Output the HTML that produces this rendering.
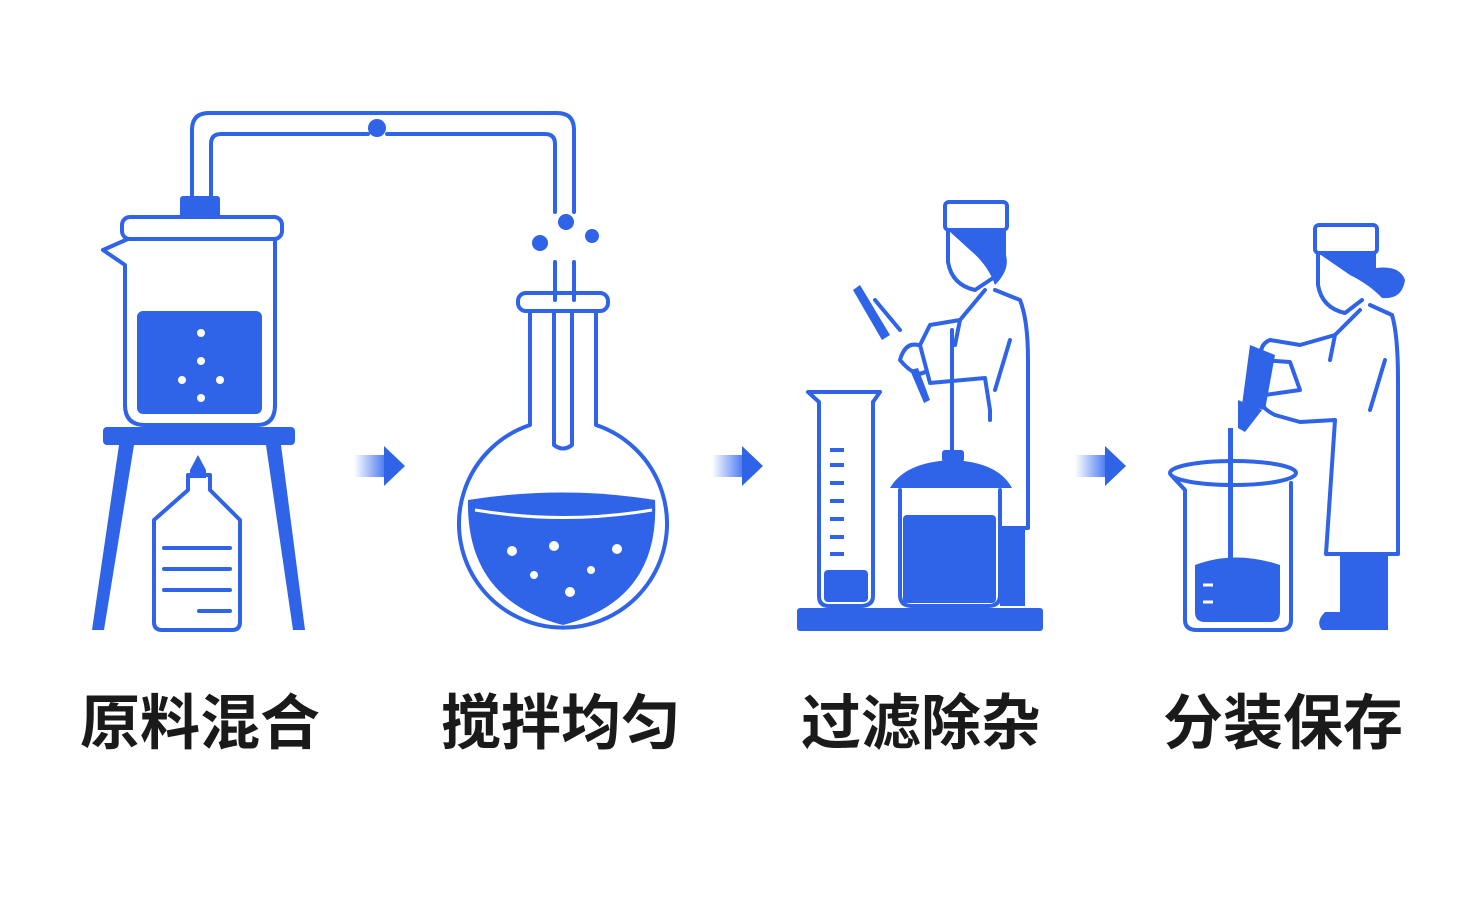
<!DOCTYPE html>
<html><head><meta charset="utf-8"><style>
html,body{margin:0;padding:0;background:#fff;}
body{width:1459px;height:897px;overflow:hidden;position:relative;}
.t{position:absolute;top:675px;font-family:"Liberation Sans","Noto Sans CJK SC",sans-serif;font-weight:bold;font-size:60px;color:#1a1a1a;letter-spacing:0px;}
</style></head><body>
<svg width="1459" height="897" style="position:absolute;left:0;top:0">
<defs>
<linearGradient id="ag" x1="0" x2="1"><stop offset="0" stop-color="#3a6ef0" stop-opacity="0"/><stop offset="1" stop-color="#3a6ef0"/></linearGradient>
</defs>
<g fill="none" stroke="#2f63e8" stroke-width="4" stroke-linejoin="round" stroke-linecap="round">
<path d="M192 196 V130 Q192 113 209 113 H557 Q574 113 574 130 V212"/>
<path d="M211 196 V144 Q211 134 221 134 H368 M387 134 H545 Q555 134 555 144 V212"/>
<path d="M555 262 V300 M574 262 V300"/>
<rect x="122" y="217" width="160" height="22" rx="8"/>
<path d="M128 239 L103 250 L125 265 V405 Q125 425 145 425 H257 Q275 425 275 405 V239"/>
<path d="M188 475 H210 V490 L240 520 V622 Q240 630 232 630 H162 Q154 630 154 622 V520 L188 490 Z"/>
<path d="M164 548 H230 M164 569 H230 M164 590 H230 M199 611 H230"/>
<rect x="518" y="293" width="90" height="18" rx="8"/>
<path d="M530 311 V425 A104 104 0 1 0 596 425 V311"/>
<path d="M554 311 V445 Q563 452 572 445 V311"/>
<path d="M808 392 H880 L873 402 V596 Q873 606 860 606 H829 Q819 606 819 596 V402 Z"/>
<path d="M900 490 V595 Q900 606 912 606 H988 Q1000 606 1000 595 V490"/>
<path d="M952 455 V330"/>
<rect x="945" y="202" width="62" height="28" rx="4"/>
<path d="M948 230 V262 Q952 285 975 290 L993 278"/>
<path d="M985 290 L960 320 L930 325 L920 345 L930 383 L985 378 L990 410 V420 M995 290 L1020 300 Q1028 320 1028 360 V528 H1000 M960 320 L955 345 M1010 340 L995 390"/>
<path d="M900 330 L875 300 M918 345 Q905 342 900 360 Q915 378 925 372"/>
<ellipse cx="1233" cy="473" rx="63" ry="12"/>
<path d="M1172 476 L1185 490 V620 Q1185 630 1197 630 H1280 Q1291 630 1291 620 V483"/>
<rect x="1315" y="225" width="62" height="28" rx="4"/>
<path d="M1318 253 V285 Q1322 308 1345 313 L1362 300"/>
<path d="M1360 310 L1335 335 L1300 345 L1270 340 Q1258 345 1262 360 L1290 362 L1300 390 L1265 395 Q1255 405 1275 415 L1300 422 L1335 420 M1370 305 L1392 315 Q1398 335 1398 380 V554 H1326 L1335 420 M1335 335 L1330 360 M1385 360 L1370 410"/>
</g>
<g fill="#2f63e8">
<circle cx="377" cy="128" r="9"/>
<rect x="180" y="196" width="40" height="22" rx="3"/>
<rect x="137" y="311" width="125" height="103" rx="6"/>
<rect x="103" y="427" width="192" height="18" rx="4"/>
<path d="M119 445 H134 L104 630 H92 Z M266 445 H281 L305 630 H293 Z"/>
<path d="M198 455 L206 470 L206 478 H190 L190 470 Z"/>
<circle cx="566" cy="222" r="8"/><circle cx="540" cy="243" r="8"/><circle cx="592" cy="236" r="7"/>
<path d="M468 500 Q563 485 655 500 Q660 600 563 625 Q466 600 468 500 Z"/>
<rect x="354" y="455" width="34" height="22" fill="url(#ag)"/><path d="M384 446 L405 466 L384 486 Z"/>
<rect x="712" y="455" width="34" height="22" fill="url(#ag)"/><path d="M742 446 L763 466 L742 486 Z"/>
<rect x="1075" y="455" width="34" height="22" fill="url(#ag)"/><path d="M1105 446 L1126 466 L1105 486 Z"/>
<rect x="797" y="608" width="246" height="23" rx="3"/>
<rect x="824" y="570" width="44" height="32" rx="4"/>
<path d="M830 450h14M830 465h14M830 483h14M830 501h14M830 519h14M830 537h14M830 554h14" stroke="#2f63e8" stroke-width="4"/>
<rect x="942" y="450" width="22" height="12" rx="3"/>
<path d="M890 488 Q905 462 952 460 Q998 462 1012 488 Z"/>
<rect x="903" y="515" width="93" height="88" rx="4"/>
<rect x="1000" y="528" width="25" height="78"/>
<path d="M948 230 H1006 V255 Q1010 270 995 285 Q988 265 970 250 Z"/>
<path d="M853 290 L860 285 L890 335 L882 340 Z M910 370 L918 368 L930 400 L924 403 Z"/>
<path d="M1318 253 H1376 V268 Q1400 265 1405 280 Q1402 300 1382 298 Q1370 285 1350 275 Z"/>
<path d="M1250 345 L1275 355 L1265 410 L1242 405 Z"/>
<path d="M1238 400 L1262 410 L1245 432 L1238 428 Z"/>
<rect x="1228" y="428" width="5" height="130"/>
<path d="M1195 565 Q1235 550 1280 565 V612 Q1280 622 1270 622 H1205 Q1195 622 1195 612 Z"/>
<rect x="1340" y="556" width="48" height="60"/>
<path d="M1325 612 H1388 V630 H1322 Q1315 622 1325 612 Z"/>
</g>
<g fill="#fff">
<circle cx="201" cy="333" r="4"/><circle cx="201" cy="361" r="4"/><circle cx="182" cy="380" r="4"/><circle cx="220" cy="380" r="4"/><circle cx="201" cy="398" r="4"/>
<circle cx="512" cy="551" r="5"/><circle cx="554" cy="546" r="5"/><circle cx="617" cy="549" r="5"/><circle cx="534" cy="575" r="4"/><circle cx="591" cy="570" r="4"/><circle cx="570" cy="592" r="5"/>
</g>
<path d="M475 510 Q563 525 652 510" stroke="#fff" stroke-width="3" fill="none"/>
<path d="M1203 585h10M1203 602h10" stroke="#fff" stroke-width="3"/>
</svg>
<div class="t" style="left:80px">原料混合</div>
<div class="t" style="left:441px">搅拌均匀</div>
<div class="t" style="left:801px">过滤除杂</div>
<div class="t" style="left:1163px">分装保存</div>
</body></html>
